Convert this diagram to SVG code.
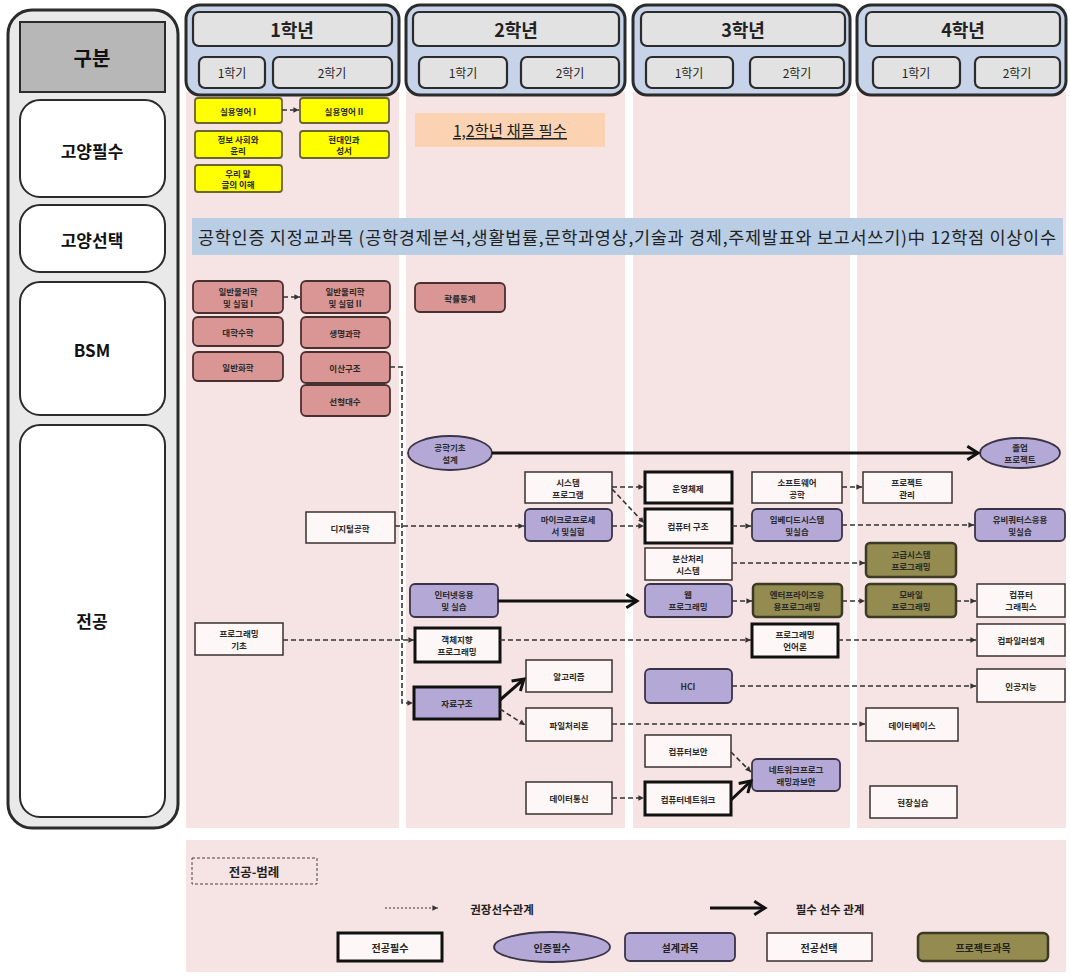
<svg xmlns="http://www.w3.org/2000/svg" width="1070" height="976" viewBox="0 0 1070 976">
<style>
text{font-family:"Noto Sans CJK KR","Noto Sans",sans-serif;fill:#222;text-anchor:middle;dominant-baseline:central}
.t{font-size:8.5px;font-weight:bold;fill:#2a2a2a}
.lbl{font-size:17px;font-weight:bold;fill:#111}
.yr{font-size:18px;font-weight:bold}
.sm{font-size:12px}
.lg{font-size:10px;font-weight:bold}
.col{fill:#f6e3e3}
.hdr{fill:#c6d3e8;stroke:#2b2b2b;stroke-width:3}
.hin{fill:#e2e2e2;stroke:#2b2b2b;stroke-width:2.2}
.row{fill:#fff;stroke:#2b2b2b;stroke-width:2}
.yel{fill:#ffff00;stroke:#6b6530;stroke-width:1.8}
.bsm{fill:#d99694;stroke:#4a3030;stroke-width:1.8}
.sel{fill:#fdf7f7;stroke:#3a3030;stroke-width:1.5}
.req{fill:#fdf7f7;stroke:#111;stroke-width:3}
.des{fill:#b4a9d6;stroke:#3a3448;stroke-width:1.8}
.prj{fill:#938b50;stroke:#3b3a25;stroke-width:2.5}
.dash{fill:none;stroke:#333;stroke-width:1.6;stroke-dasharray:5,3}
.solid{fill:none;stroke:#111;stroke-width:3}
</style>
<defs>
<marker id="ad" viewBox="0 0 10 10" refX="9" refY="5" markerWidth="7" markerHeight="7" markerUnits="userSpaceOnUse" orient="auto"><path d="M1,1 L9,5 L1,9 Z" fill="#333"/></marker>
<marker id="as" viewBox="0 0 12 12" refX="10" refY="6" markerWidth="16" markerHeight="16" markerUnits="userSpaceOnUse" orient="auto"><path d="M2,1 L10,6 L2,11" fill="none" stroke="#111" stroke-width="2.2"/></marker>
</defs>
<rect width="1070" height="976" fill="#fff"/>

<g id="left-panel">
<rect x="8" y="10" width="170" height="818" rx="24" fill="#e9e9e9" stroke="#2b2b2b" stroke-width="3"/>
<rect x="20" y="22" width="145" height="70" fill="#b7b7b7" stroke="#2b2b2b" stroke-width="2"/>
<text x="92" y="57" style="font-size:20px;font-weight:bold;fill:#111">구분</text>
<rect class="row" x="20" y="100" width="145" height="97" rx="20"/>
<text class="lbl" x="92" y="150">고양필수</text>
<rect class="row" x="20" y="205" width="145" height="67" rx="20"/>
<text class="lbl" x="92" y="239">고양선택</text>
<rect class="row" x="20" y="282" width="145" height="133" rx="20"/>
<text class="lbl" x="92" y="349">BSM</text>
<rect class="row" x="20" y="425" width="145" height="392" rx="20"/>
<text class="lbl" x="92" y="620">전공</text>
</g>

<g id="columns">
<rect class="col" x="186" y="92" width="213" height="736"/>
<rect class="col" x="406" y="92" width="219" height="736"/>
<rect class="col" x="633" y="92" width="217" height="736"/>
<rect class="col" x="857" y="92" width="209" height="736"/>
</g>

<g id="year1">
<rect class="hdr" x="186" y="5" width="213" height="90" rx="14"/>
<rect class="hin" x="193" y="12" width="199" height="34" rx="6"/>
<text class="yr" x="292" y="29">1학년</text>
<rect class="hin" x="199" y="57" width="66" height="31" rx="6"/>
<text class="sm" x="232" y="72.5">1학기</text>
<rect class="hin" x="273" y="57" width="119" height="31" rx="6"/>
<text class="sm" x="332" y="72.5">2학기</text>
</g>
<g id="year2">
<rect class="hdr" x="406" y="5" width="219" height="90" rx="14"/>
<rect class="hin" x="413" y="12" width="206" height="34" rx="6"/>
<text class="yr" x="516" y="29">2학년</text>
<rect class="hin" x="419" y="57" width="88" height="31" rx="6"/>
<text class="sm" x="463" y="72.5">1학기</text>
<rect class="hin" x="521" y="57" width="98" height="31" rx="6"/>
<text class="sm" x="570" y="72.5">2학기</text>
</g>
<g id="year3">
<rect class="hdr" x="633" y="5" width="217" height="90" rx="14"/>
<rect class="hin" x="641" y="12" width="204" height="34" rx="6"/>
<text class="yr" x="743" y="29">3학년</text>
<rect class="hin" x="646" y="57" width="87" height="31" rx="6"/>
<text class="sm" x="689" y="72.5">1학기</text>
<rect class="hin" x="750" y="57" width="94" height="31" rx="6"/>
<text class="sm" x="797" y="72.5">2학기</text>
</g>
<g id="year4">
<rect class="hdr" x="857" y="5" width="209" height="90" rx="14"/>
<rect class="hin" x="866" y="12" width="194" height="34" rx="6"/>
<text class="yr" x="963" y="29">4학년</text>
<rect class="hin" x="873" y="57" width="87" height="31" rx="6"/>
<text class="sm" x="916" y="72.5">1학기</text>
<rect class="hin" x="975" y="57" width="85" height="31" rx="6"/>
<text class="sm" x="1017" y="72.5">2학기</text>
</g>

<g id="n-eng1"><rect class="yel" x="195" y="98" width="87" height="25" rx="3"/><text class="t" x="238" y="110.5">실용영어 I</text></g>
<g id="n-eng2"><rect class="yel" x="300" y="98" width="89" height="25" rx="3"/><text class="t" x="344" y="110.5">실용영어 II</text></g>
<g id="n-ethics"><rect class="yel" x="195" y="131" width="87" height="27" rx="3"/><text class="t" x="238" y="139">정보 사회와</text><text class="t" x="238" y="150">윤리</text></g>
<g id="n-bible"><rect class="yel" x="300" y="131" width="89" height="27" rx="3"/><text class="t" x="344" y="139">현대인과</text><text class="t" x="344" y="150">성서</text></g>
<g id="n-korean"><rect class="yel" x="195" y="165" width="87" height="27" rx="3"/><text class="t" x="238" y="173">우리 말</text><text class="t" x="238" y="184">글의 이해</text></g>
<g id="n-chapel"><rect x="415" y="113" width="190" height="34" fill="#fbd3b3"/><text x="510" y="130" style="font-size:15.5px;text-decoration:underline">1,2학년 채플 필수</text></g>

<g id="n-elective"><rect x="192" y="218" width="871" height="37" fill="#b9cde5"/><text x="627" y="236.5" style="font-size:17.5px" textLength="858" lengthAdjust="spacing">공학인증 지정교과목 (공학경제분석,생활법률,문학과영상,기술과 경제,주제발표와 보고서쓰기)中 12학점 이상이수</text></g>

<g id="n-phys1"><rect class="bsm" x="193" y="281" width="90" height="32" rx="5"/><text class="t" x="238" y="291">일반물리학</text><text class="t" x="238" y="303">및 실험 I</text></g>
<g id="n-phys2"><rect class="bsm" x="301" y="281" width="89" height="32" rx="5"/><text class="t" x="345" y="291">일반물리학</text><text class="t" x="345" y="303">및 실험 II</text></g>
<g id="n-math"><rect class="bsm" x="193" y="317" width="90" height="29" rx="5"/><text class="t" x="238" y="331.5">대학수학</text></g>
<g id="n-chem"><rect class="bsm" x="193" y="352" width="90" height="29" rx="5"/><text class="t" x="238" y="366.5">일반화학</text></g>
<g id="n-bio"><rect class="bsm" x="301" y="317" width="89" height="31" rx="5"/><text class="t" x="345" y="332.5">생명과학</text></g>
<g id="n-discrete"><rect class="bsm" x="301" y="352" width="89" height="31" rx="5"/><text class="t" x="345" y="367.5">이산구조</text></g>
<g id="n-linalg"><rect class="bsm" x="301" y="385" width="89" height="31" rx="5"/><text class="t" x="345" y="400.5">선형대수</text></g>
<g id="n-prob"><rect class="bsm" x="415" y="283" width="90" height="29" rx="5"/><text class="t" x="460" y="297.5">확률통계</text></g>

<g id="n-design"><ellipse class="des" cx="450" cy="453" rx="42" ry="17"/><text class="t" x="450" y="447">공학기초</text><text class="t" x="450" y="459">설계</text></g>
<g id="n-capstone"><ellipse class="des" cx="1020" cy="453" rx="40" ry="15"/><text class="t" x="1020" y="447">졸업</text><text class="t" x="1020" y="459">프로젝트</text></g>
<g id="n-sysprog"><rect class="sel" x="525" y="472" width="87" height="31"/><text class="t" x="568" y="482">시스템</text><text class="t" x="568" y="494">프로그램</text></g>
<g id="n-os"><rect class="req" x="645" y="472" width="87" height="31"/><text class="t" x="688" y="487.5">운영체제</text></g>
<g id="n-se"><rect class="sel" x="752" y="472" width="90" height="31"/><text class="t" x="797" y="482">소프트웨어</text><text class="t" x="797" y="494">공학</text></g>
<g id="n-pm"><rect class="sel" x="863" y="472" width="89" height="31"/><text class="t" x="907" y="482">프로젝트</text><text class="t" x="907" y="494">관리</text></g>
<g id="n-digital"><rect class="sel" x="306" y="512" width="89" height="31"/><text class="t" x="350" y="527.5">디지털공학</text></g>
<g id="n-micro"><rect class="des" x="525" y="509" width="87" height="32" rx="5"/><text class="t" x="568" y="519">마이크로프로세</text><text class="t" x="568" y="531">서 및실험</text></g>
<g id="n-arch"><rect class="req" x="645" y="509" width="87" height="34"/><text class="t" x="688" y="526">컴퓨터 구조</text></g>
<g id="n-embed"><rect class="des" x="752" y="509" width="90" height="32" rx="5"/><text class="t" x="797" y="519">임베디드시스템</text><text class="t" x="797" y="531">및실습</text></g>
<g id="n-ubi"><rect class="des" x="975" y="509" width="90" height="32" rx="5"/><text class="t" x="1020" y="519">유비쿼터스응용</text><text class="t" x="1020" y="531">및실습</text></g>
<g id="n-dist"><rect class="sel" x="645" y="548" width="87" height="32"/><text class="t" x="688" y="558">분산처리</text><text class="t" x="688" y="570">시스템</text></g>
<g id="n-advsys"><rect class="prj" x="866" y="543" width="90" height="34" rx="4"/><text class="t" x="911" y="554">고급시스템</text><text class="t" x="911" y="566">프로그래밍</text></g>
<g id="n-inet"><rect class="des" x="410" y="584" width="88" height="33" rx="5"/><text class="t" x="454" y="594">인터넷응용</text><text class="t" x="454" y="606">및 실습</text></g>
<g id="n-web"><rect class="des" x="645" y="584" width="87" height="33" rx="5"/><text class="t" x="688" y="594">웹</text><text class="t" x="688" y="606">프로그래밍</text></g>
<g id="n-ent"><rect class="prj" x="753" y="584" width="89" height="33" rx="4"/><text class="t" x="797" y="594">엔터프라이즈응</text><text class="t" x="797" y="606">용프로그래밍</text></g>
<g id="n-mobile"><rect class="prj" x="866" y="584" width="90" height="33" rx="4"/><text class="t" x="911" y="594">모바일</text><text class="t" x="911" y="606">프로그래밍</text></g>
<g id="n-graphics"><rect class="sel" x="977" y="584" width="88" height="33"/><text class="t" x="1021" y="594">컴퓨터</text><text class="t" x="1021" y="606">그래픽스</text></g>
<g id="n-progbasic"><rect class="sel" x="195" y="623" width="88" height="32"/><text class="t" x="239" y="633">프로그래밍</text><text class="t" x="239" y="645">기초</text></g>
<g id="n-oop"><rect class="req" x="415" y="628" width="85" height="34"/><text class="t" x="457" y="639">객체지향</text><text class="t" x="457" y="651">프로그래밍</text></g>
<g id="n-plang"><rect class="req" x="752" y="624" width="86" height="33"/><text class="t" x="795" y="634">프로그래밍</text><text class="t" x="795" y="646">언어론</text></g>
<g id="n-compiler"><rect class="sel" x="977" y="624" width="88" height="32"/><text class="t" x="1021" y="640">컴파일러설계</text></g>
<g id="n-algo"><rect class="sel" x="526" y="660" width="86" height="32"/><text class="t" x="569" y="676">알고리즘</text></g>
<g id="n-hci"><rect class="des" x="645" y="669" width="87" height="34" rx="5"/><text class="t" x="688" y="686">HCI</text></g>
<g id="n-ai"><rect class="sel" x="977" y="669" width="88" height="33"/><text class="t" x="1021" y="685.5">인공지능</text></g>
<g id="n-ds"><rect x="414" y="687" width="86" height="32" fill="#b4a9d6" stroke="#111" stroke-width="3"/><text class="t" x="457" y="703">자료구조</text></g>
<g id="n-file"><rect class="sel" x="526" y="708" width="86" height="33"/><text class="t" x="569" y="724.5">파일처리론</text></g>
<g id="n-db"><rect class="sel" x="866" y="708" width="92" height="33"/><text class="t" x="912" y="724.5">데이터베이스</text></g>
<g id="n-sec"><rect class="sel" x="645" y="735" width="86" height="32"/><text class="t" x="688" y="751">컴퓨터보안</text></g>
<g id="n-netsec"><rect class="des" x="752" y="759" width="88" height="32" rx="5"/><text class="t" x="796" y="769">네트워크프로그</text><text class="t" x="796" y="781">래밍과보안</text></g>
<g id="n-datacom"><rect class="sel" x="526" y="782" width="86" height="32"/><text class="t" x="569" y="798">데이터통신</text></g>
<g id="n-net"><rect class="req" x="645" y="782" width="86" height="33"/><text class="t" x="688" y="798.5">컴퓨터네트워크</text></g>
<g id="n-intern"><rect class="sel" x="870" y="786" width="87" height="32"/><text class="t" x="913" y="802">현장실습</text></g>

<g id="connectors">
<path class="dash" d="M282,110 H299" marker-end="url(#ad)"/>
<path class="dash" d="M283,297 H300" marker-end="url(#ad)"/>
<path class="dash" d="M390,367 H402 V703 H413" marker-end="url(#ad)"/>
<path class="solid" d="M492,453 H978" marker-end="url(#as)"/>
<path class="dash" d="M612,487 H644" marker-end="url(#ad)"/>
<path class="dash" d="M612,489 L644,523" marker-end="url(#ad)"/>
<path class="dash" d="M395,526 H524" marker-end="url(#ad)"/>
<path class="dash" d="M612,526 H644" marker-end="url(#ad)"/>
<path class="dash" d="M732,526 H751" marker-end="url(#ad)"/>
<path class="dash" d="M842,525 H974" marker-end="url(#ad)"/>
<path class="dash" d="M842,487 H862" marker-end="url(#ad)"/>
<path class="dash" d="M732,563 H865" marker-end="url(#ad)"/>
<path class="solid" d="M498,601 H637" marker-end="url(#as)"/>
<path class="dash" d="M732,601 H752" marker-end="url(#ad)"/>
<path class="dash" d="M842,601 H865" marker-end="url(#ad)"/>
<path class="dash" d="M956,601 H976" marker-end="url(#ad)"/>
<path class="dash" d="M283,640 H414" marker-end="url(#ad)"/>
<path class="dash" d="M500,640 H751" marker-end="url(#ad)"/>
<path class="dash" d="M838,640 H976" marker-end="url(#ad)"/>
<path class="solid" d="M500,700 L524,679" marker-end="url(#as)"/>
<path class="dash" d="M500,709 L525,725" marker-end="url(#ad)"/>
<path class="dash" d="M612,724 H865" marker-end="url(#ad)"/>
<path class="dash" d="M732,686 H976" marker-end="url(#ad)"/>
<path class="dash" d="M731,752 L751,772" marker-end="url(#ad)"/>
<path class="solid" d="M731,800 L751,781" marker-end="url(#as)"/>
<path class="dash" d="M612,798 H644" marker-end="url(#ad)"/>
</g>

<g id="legend">
<rect x="186" y="840" width="880" height="132" fill="#f6e3e3"/>
<rect x="192" y="858" width="125" height="26" fill="none" stroke="#444" stroke-width="1" stroke-dasharray="3,2"/>
<text x="254" y="871" style="font-size:12.5px;font-weight:bold">전공-범례</text>
<path d="M385,908 H438" fill="none" stroke="#333" stroke-width="1.2" stroke-dasharray="2,2" marker-end="url(#ad)"/>
<text x="502" y="909" style="font-size:11.5px;font-weight:bold">권장선수관계</text>
<path d="M710,908 H765" class="solid" marker-end="url(#as)"/>
<text x="830" y="909" style="font-size:11.5px;font-weight:bold">필수 선수 관계</text>
<rect class="req" x="338" y="933" width="104" height="28"/>
<text class="lg" x="390" y="947">전공필수</text>
<ellipse class="des" cx="552" cy="947" rx="58" ry="15"/>
<text class="lg" x="552" y="947">인증필수</text>
<rect class="des" x="625" y="933" width="110" height="28" rx="5"/>
<text class="lg" x="680" y="947">설계과목</text>
<rect class="sel" x="767" y="933" width="105" height="28"/>
<text class="lg" x="819" y="947">전공선택</text>
<rect class="prj" x="918" y="933" width="130" height="28" rx="5"/>
<text class="lg" x="983" y="947">프로젝트과목</text>
</g>
</svg>
